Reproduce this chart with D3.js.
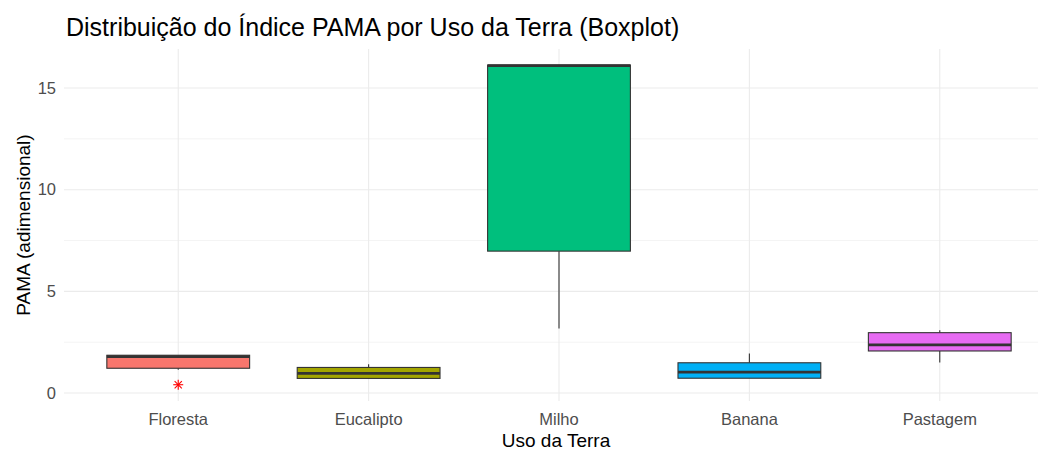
<!DOCTYPE html>
<html>
<head>
<meta charset="utf-8">
<script src="https://cdn.jsdelivr.net/npm/d3@7"></script>
<style>
  body { margin: 0; background: #fff; }
  text { font-family: "Liberation Sans", Arial, sans-serif; }
</style>
</head>
<body>
<div id="container"></div>
<script>
/* CONSTANTS AND GLOBALS */
const width = 1038,
  height = 450,
  margin = {top: 49, bottom: 49, left: 64, right: -16};

// data
const categories = ["Floresta", "Eucalipto", "Milho", "Banana", "Pastagem"];
const colors = ["#F8766D", "#A3A500", "#00BF7D", "#00B0F6", "#E76BF3"];
const whiskerLow = [1.15, 0.72, 3.17, 0.73, 1.50];
const q1 = [1.22, 0.72, 6.98, 0.73, 2.07];
const median = [1.79, 0.97, 16.10, 1.03, 2.37];
const q3 = [1.86, 1.26, 16.13, 1.49, 2.97];
const whiskerHigh = [1.86, 1.42, 16.13, 1.95, 3.09];
const outliers = [[0.41], [], [], [], []];
const yTicks = [0, 5, 10, 15];
const yMinor = [2.5, 7.5, 12.5];

const data = categories.map((c, i) => ({
  cat: c, color: colors[i], lo: whiskerLow[i], q1: q1[i], med: median[i],
  q3: q3[i], hi: whiskerHigh[i], out: outliers[i]
}));

/* SCALES */
const xScale = d3.scaleBand()
  .domain(categories)
  .range([margin.left, width - margin.right])
  .paddingInner(0)
  .paddingOuter(0.1);

const yScale = d3.scaleLinear()
  .domain([-0.39, 16.92])
  .range([height - margin.bottom, margin.top]);

const boxW = xScale.bandwidth() * 0.75;
const cx = d => xScale(d) + xScale.bandwidth() / 2;

const svg = d3.select("#container")
  .append("svg")
  .attr("width", width)
  .attr("height", height);

// grid
const grid = svg.append("g");
grid.selectAll(".minor")
  .data(yMinor)
  .join("line")
  .attr("x1", margin.left).attr("x2", width)
  .attr("y1", d => yScale(d)).attr("y2", d => yScale(d))
  .attr("stroke", "#EBEBEB").attr("stroke-width", 0.6);
grid.selectAll(".major")
  .data(yTicks)
  .join("line")
  .attr("x1", margin.left).attr("x2", width)
  .attr("y1", d => yScale(d)).attr("y2", d => yScale(d))
  .attr("stroke", "#EBEBEB").attr("stroke-width", 1.1);
grid.selectAll(".vert")
  .data(categories)
  .join("line")
  .attr("x1", d => cx(d)).attr("x2", d => cx(d))
  .attr("y1", margin.top).attr("y2", height - margin.bottom)
  .attr("stroke", "#EBEBEB").attr("stroke-width", 1.1);

// axes (no domain line, no ticks)
const yAxis = d3.axisLeft(yScale).tickValues(yTicks).tickSize(0).tickPadding(8);
svg.append("g")
  .attr("transform", `translate(${margin.left},0)`)
  .call(yAxis)
  .call(g => g.select(".domain").remove())
  .call(g => g.selectAll("text")
    .attr("font-family", "Liberation Sans, Arial, sans-serif")
    .attr("font-size", 16.5).attr("fill", "#4D4D4D"));

const xAxis = d3.axisBottom(xScale).tickSize(0).tickPadding(12);
svg.append("g")
  .attr("transform", `translate(0,${height - margin.bottom})`)
  .call(xAxis)
  .call(g => g.select(".domain").remove())
  .call(g => g.selectAll("text")
    .attr("font-family", "Liberation Sans, Arial, sans-serif")
    .attr("font-size", 16.5).attr("fill", "#4D4D4D"));

// boxes
const box = svg.append("g").selectAll("g")
  .data(data)
  .join("g");

box.append("line")
  .attr("x1", d => cx(d.cat)).attr("x2", d => cx(d.cat))
  .attr("y1", d => yScale(d.q3)).attr("y2", d => yScale(d.hi))
  .attr("stroke", "#333333").attr("stroke-width", 1.1);
box.append("line")
  .attr("x1", d => cx(d.cat)).attr("x2", d => cx(d.cat))
  .attr("y1", d => yScale(d.q1)).attr("y2", d => yScale(d.lo))
  .attr("stroke", "#333333").attr("stroke-width", 1.1);

box.append("rect")
  .attr("x", d => cx(d.cat) - boxW / 2)
  .attr("width", boxW)
  .attr("y", d => yScale(d.q3))
  .attr("height", d => yScale(d.q1) - yScale(d.q3))
  .attr("fill", d => d.color)
  .attr("stroke", "#333333")
  .attr("stroke-width", 1.1);

box.append("line")
  .attr("x1", d => cx(d.cat) - boxW / 2).attr("x2", d => cx(d.cat) + boxW / 2)
  .attr("y1", d => yScale(d.med)).attr("y2", d => yScale(d.med))
  .attr("stroke", "#333333").attr("stroke-width", 2.8);

// outliers: asterisk (plus + cross)
const r = 5;
box.each(function(d) {
  const g = d3.select(this);
  d.out.forEach(v => {
    const x = cx(d.cat), y = yScale(v);
    const s = g.append("g").attr("stroke", "red").attr("stroke-width", 1.1);
    s.append("line").attr("x1", x - r).attr("x2", x + r).attr("y1", y).attr("y2", y);
    s.append("line").attr("x1", x).attr("x2", x).attr("y1", y - r).attr("y2", y + r);
    const k = r * 0.72;
    s.append("line").attr("x1", x - k).attr("x2", x + k).attr("y1", y - k).attr("y2", y + k);
    s.append("line").attr("x1", x - k).attr("x2", x + k).attr("y1", y + k).attr("y2", y - k);
  });
});

// titles
svg.append("text")
  .attr("x", 66).attr("y", 36)
  .attr("font-size", 25).attr("fill", "#000")
  .text("Distribuição do Índice PAMA por Uso da Terra (Boxplot)");

svg.append("text")
  .attr("x", 556).attr("y", 447)
  .attr("text-anchor", "middle")
  .attr("font-size", 19).attr("fill", "#000")
  .text("Uso da Terra");

svg.append("text")
  .attr("transform", `translate(30,${(margin.top + height - margin.bottom) / 2}) rotate(-90)`)
  .attr("text-anchor", "middle")
  .attr("font-size", 19).attr("fill", "#000")
  .text("PAMA (adimensional)");
</script>
</body>
</html>
